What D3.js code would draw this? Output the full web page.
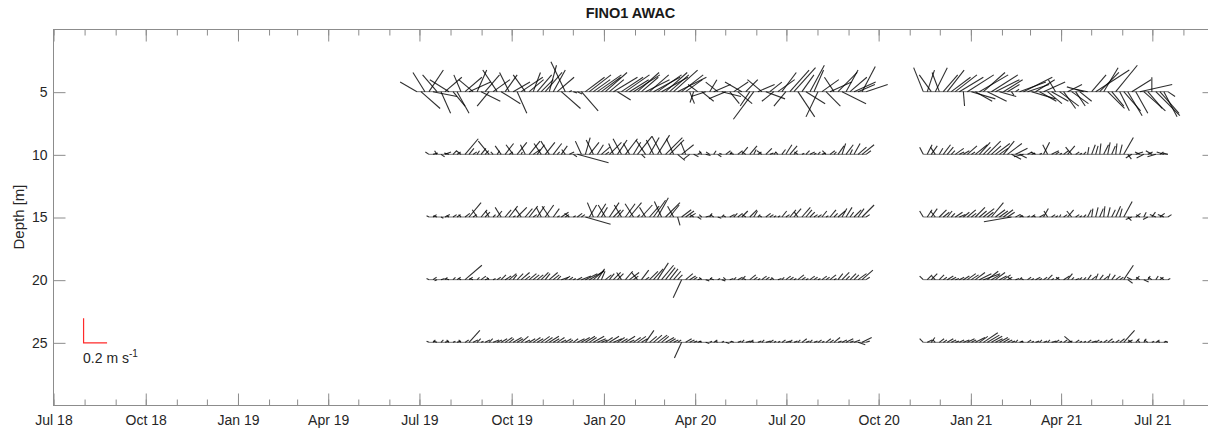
<!DOCTYPE html>
<html>
<head>
<meta charset="utf-8">
<script src="https://cdn.jsdelivr.net/npm/d3@7"></script>
<style>
  html, body { margin: 0; padding: 0; background: #fff; }
  svg { display: block; font-family: "Liberation Sans", Arial, Helvetica, sans-serif; }
</style>
</head>
<body>
<svg id="chart" width="1208" height="430"></svg>
<script>
// ---------------------------------------------------------------
// FINO1 AWAC current sticks: east (u) and north (v) components in cm/s,
// one vector every 4 days, two deployments (a: 2019-20, b: 2020-21).
// null = no valid bin at that depth.
// ---------------------------------------------------------------
const title = "FINO1 AWAC";
const depths = [5, 10, 15, 20, 25];
const depthTicks = [5, 10, 15, 20, 25];
const startA = "2019-06-29";
const startB = "2020-11-15";
const stepDays = 4;

// 5 m
const u5a = [-14,16,-10,12,20,-12,8,14,-16,10, 10,-6,14,18,-12,8,16,12,-10,14, -12,16,10,-8,14,8,18,-10,12,6,
  12,10,14,6,10,14,16,-12,2,3, 4,14,16,18,14,20,16,18,12,20, 11,18,20,16,22,18,14,20,16,22,
  20,22,18,16,20,24,18,14,4,-3, -8,10,-12,6,14,-10,16,-14,8,12, 12,-14,10,-8,-17,14,-12,16,10,-10,
  14,12,-10,16,18,14,10,16,12,8, -10,14,12,18,-8,16,20,10,14,18, 14,11,18];
const v5a = [8,-14,16,18,-4,14,-18,12,10,-12, -18,14,12,8,10,18,-8,14,-12,10, 18,-10,14,16,8,-18,12,14,10,16,
  14,10,16,22,18,12,-14,25,1,-1, -2,-16,12,14,10,14,12,16,10,12, -7,12,14,10,14,16,12,10,14,12,
  14,12,16,14,18,12,14,10,-10,-9, 6,-8,-4,10,6,8,-4,-6,-10,8, -10,8,10,-12,-23,6,10,-6,8,-8,
  10,16,-12,18,20,-21,14,-10,22,18, -21,10,-12,8,12,16,-10,18,12,8, 6,21,6];
const u5b = [-8,6,-10,10,-6,12,14,16,18,20, 1,22,20,14,24,18,16,22,20,14, 16,10,2,3,22,24,18,20,16,14,
  18,12,14,-6,16,10,12,14,8,10, -14,-10,12,28,16,12,14,10,18,8, 14,12,16,10,27,18,12,0,20,16, 11,6];
const v5b = [20,18,14,20,16,14,18,12,14,12, -12,14,-6,-8,14,16,-8,14,10,-4, 10,6,-3,2,8,12,6,-6,10,-8,
  8,-10,-8,10,-12,-14,6,-10,-12,-8, 4,2,14,18,16,20,-14,-12,22,-16, -16,-20,10,-18,6,-16,-14,12,-20,-18, -21,-4];

// 10 m
const u10a = [null,null,null,-3,4,-2,3,5,-4,3, 3,-4,11,4,3,2,4,3,-9,-2, 2,-5,7,3,-6,8,1,-4,9,6,
  6,-6,8,-7,7,2,5,-3,4,3, 26,-5,4,8,-6,5,7,3,10,-4, 8,-7,10,-5,6,12,3,-8,8,-6,
  10,-8,14,12,-6,6,10,-4,-5,4, 3,-2,4,-3,2,3,-2,4,2,-3, 4,5,-3,6,2,3,-4,5,3,2,
  -2,3,5,6,3,-3,2,3,4,2, 2,3,-3,4,2,5,3,6,2,5, 7,10,4];
const v10a = [null,null,null,2,1,3,-2,2,1,3, 2,3,13,5,2,3,5,3,11,2, 3,7,9,2,8,10,2,8,11,4,
  8,9,10,11,9,2,7,4,2,-2, -7,11,14,10,12,8,6,2,10,9, 12,13,13,9,10,15,-3,12,14,12,
  16,15,14,12,13,-5,8,10,-4,-2, 2,3,-1,2,3,-2,1,3,2,1, 3,6,2,7,4,2,3,5,1,2,
  2,4,8,7,3,2,1,3,2,1, 2,1,3,3,2,7,9,8,4,9, 6,8,3];
const u10b = [-3,4,5,-4,3,6,5,3,7,4, 5,8,3,10,9,6,11,8,12,7, 9,12,8,10,6,-8,4,3,-4,2,
  5,-4,6,3,2,4,6,-5,3,2, 2,1,3,2,1,4,2,3,1,2, 8,3,-5,6,-4,-6,4,-5,-7,3, -6,-4];
const v10b = [6,8,7,6,5,8,6,3,5,2, 3,7,2,8,10,6,11,7,9,5, 11,9,-4,5,-3,-2,2,1,2,1,
  10,8,3,2,1,3,7,6,2,1, 2,6,8,7,9,8,10,7,9,8, 14,-4,-3,2,2,-3,2,3,-2,2, 2,1];

// 15 m
const u15a = [null,null,null,-2,3,-3,2,4,-2,3, 3,-2,4,10,3,-4,5,4,-3,2, 4,-5,5,7,2,8,-5,6,7,3,
  6,-4,7,-6,5,2,6,3,-4,2, 4,3,21,6,-5,7,5,-6,8,6, 5,-6,8,10,-7,2,9,-5,8,10,
  9,-6,12,8,-5,2,8,7,5,-3, 3,-2,4,2,-3,3,2,-2,4,3, 4,5,-3,6,3,2,-2,4,3,2,
  2,4,3,5,6,-3,7,5,4,3, 3,4,2,5,3,6,4,5,3,6, 5,10,3];
const v15a = [null,null,null,1,2,1,-1,2,1,2, 2,2,3,12,2,6,6,4,5,2, 5,8,6,9,1,8,7,7,9,2,
  9,8,10,9,7,1,4,2,3,1, 3,2,-6,10,12,11,8,10,12,6, 6,10,11,12,11,2,10,8,9,14,
  16,13,12,10,9,-7,6,5,3,2, -2,2,1,3,2,-1,2,1,2,3, 3,5,2,6,5,2,1,3,2,1,
  1,5,2,6,7,4,8,6,4,2, 2,5,1,6,3,5,7,8,4,6, 7,10,2];
const u15b = [-3,4,5,-4,6,5,4,3,6,5, 5,7,4,8,6,9,5,10,8,7, 8,6,-23,4,3,-3,2,3,-2,4,
  4,-3,3,2,1,3,5,-4,3,2, 2,3,1,2,3,1,2,3,4,2, 7,3,-5,4,-3,2,-4,3,-5,4, -5,3];
const v15b = [5,6,7,5,6,4,5,3,4,2, 4,6,3,8,5,7,4,12,6,5, 6,4,-4,2,1,2,1,2,1,2,
  7,5,2,1,2,2,6,5,2,1, 2,6,7,8,7,9,8,6,9,7, 13,-3,-2,3,2,4,-2,4,2,3, 2,2];

// 20 m
const u20a = [null,null,null,-2,3,-2,3,2,-3,2, 3,-2,14,3,-3,2,4,3,-2,2, 3,4,5,6,3,5,7,4,6,5,
  5,6,4,7,5,3,6,4,3,2, 4,8,10,12,9,6,3,5,4,6, 5,-4,6,8,4,-5,6,3,7,8,
  9,10,8,7,6,4,-7,6,5,3, 3,-2,3,2,-3,2,3,-2,3,2, 4,3,-2,5,3,2,4,3,2,-2,
  3,2,4,3,2,5,3,2,4,3, 2,4,3,5,2,4,6,3,5,4, 7,9,3];
const v20a = [null,null,null,1,2,-1,1,2,1,2, 2,1,12,2,1,2,3,1,2,1, 2,4,3,5,4,5,6,3,5,4,
  4,6,5,6,4,3,2,3,2,1, 2,3,5,7,8,9,7,4,5,6, 5,6,7,6,3,6,8,2,7,9,
  14,12,10,9,7,4,-15,5,3,2, 1,2,-1,2,1,1,-1,2,1,2, 2,3,1,4,2,1,3,2,1,2,
  1,2,3,2,1,4,2,1,3,2, 1,3,2,4,1,5,6,3,5,4, 5,8,2];
const u20b = [-3,4,5,-3,4,3,5,4,3,4, 5,7,6,8,10,14,9,7,8,6, 6,4,-3,3,2,-2,3,2,4,2,
  3,4,2,3,-3,5,4,2,3,2, 2,3,4,2,3,4,2,3,4,3, 8,4,-4,3,-3,4,2,-3,2,3, -3,2];
const v20b = [3,4,5,3,4,2,3,2,1,2, 3,5,4,6,5,5,7,4,6,3, 4,2,2,1,2,1,2,1,2,1,
  2,4,1,2,2,3,5,2,1,2, 2,4,3,5,4,3,5,4,3,2, 12,-3,2,3,2,-2,3,2,3,2, 2,1];

// 25 m
const u25a = [null,null,null,-2,2,-3,2,3,-2,2, 3,-2,3,9,4,3,2,4,3,5, 4,5,6,4,7,5,6,4,5,6,
  5,7,6,8,5,6,4,5,3,4, 6,7,8,6,9,7,5,6,8,7, 6,5,8,4,6,7,5,7,6,7,
  8,6,7,5,4,3,-6,5,4,3, 3,-2,3,2,3,-2,2,3,2,-2, 3,2,4,3,-2,3,2,4,3,2,
  2,3,4,2,3,2,4,3,2,3, 3,2,4,3,5,3,4,6,3,5, 6,8,3];
const v25a = [null,null,null,1,2,1,2,1,2,1, 1,2,2,10,2,3,1,2,3,2, 2,3,4,3,4,3,5,2,3,4,
  3,5,4,5,3,4,2,3,2,3, 3,4,5,4,5,3,2,4,5,3, 4,3,5,2,4,5,3,10,5,6,
  6,5,4,3,2,2,-13,3,2,1, 1,1,-1,1,2,1,1,-1,1,1, 1,2,1,2,1,1,2,1,2,1,
  1,2,1,2,1,2,3,1,2,1, 2,1,3,2,4,1,2,3,1,2, -2,4,1];
const u25b = [-3,4,3,-2,4,3,5,4,3,4, 5,6,4,8,7,12,10,9,6,7, 5,4,3,2,3,-2,3,2,3,2,
  3,2,4,3,2,3,4,-6,3,2, 2,3,4,3,2,3,4,2,3,4, 9,4,-3,3,-2,2,-3,2,3,-2, 2,-2];
const v25b = [3,2,4,2,3,2,3,2,1,2, 2,3,2,4,5,8,6,5,3,4, 3,2,1,2,1,1,2,1,1,2,
  1,2,1,2,1,2,1,5,2,1, 1,2,1,2,1,2,3,1,2,3, 10,2,2,3,2,3,2,1,2,1, 1,1];

const seriesByDepth = [
  { depth: 5,  a: [u5a, v5a],   b: [u5b, v5b] },
  { depth: 10, a: [u10a, v10a], b: [u10b, v10b] },
  { depth: 15, a: [u15a, v15a], b: [u15b, v15b] },
  { depth: 20, a: [u20a, v20a], b: [u20b, v20b] },
  { depth: 25, a: [u25a, v25a], b: [u25b, v25b] }
];

// reference arrow: 0.2 m/s drawn at depth 25
const refSpeed = 20;        // cm/s
const refDate = "2018-07-31";
const refDepth = 25;

// ---------------------------------------------------------------
const svg = d3.select("#chart");
const parse = d3.timeParse("%Y-%m-%d");

const plot = { left: 53, right: 1214, top: 29, bottom: 405 };

const x = d3.scaleTime()
  .domain([new Date(2018, 6, 1), new Date(2021, 8, 1)])
  .range([plot.left, plot.right]);
const y = d3.scaleLinear()
  .domain([0, 30])
  .range([plot.top, plot.bottom]);
// stick length: 0.2 m/s (20 cm/s) -> 24 px
const vec = d3.scaleLinear().domain([0, 20]).range([0, 24]);

const axisColor = "#8c8c8c";
const labelColor = "#262626";

// sticks
function buildSticks(start, uArr, vArr, depth) {
  const t0 = parse(start);
  const out = [];
  uArr.forEach((u, i) => {
    const v = vArr[i];
    if (u == null || v == null) return;
    out.push({ t: d3.timeDay.offset(t0, i * stepDays), u, v, depth });
  });
  return out;
}

const sticks = [];
const baselines = [];
seriesByDepth.forEach(s => {
  [[startA, s.a], [startB, s.b]].forEach(([start, [uArr, vArr]]) => {
    const pts = buildSticks(start, uArr, vArr, s.depth);
    sticks.push(...pts);
    if (pts.length) baselines.push({ depth: s.depth, t0: pts[0].t, t1: pts[pts.length - 1].t });
  });
});

const gData = svg.append("g");
gData.selectAll("line.base")
  .data(baselines)
  .join("line")
  .attr("class", "base")
  .attr("x1", d => x(d.t0)).attr("x2", d => x(d.t1))
  .attr("y1", d => y(d.depth)).attr("y2", d => y(d.depth))
  .attr("stroke", "#000").attr("stroke-opacity", 0.55).attr("stroke-width", 1);

gData.selectAll("line.stick")
  .data(sticks)
  .join("line")
  .attr("class", "stick")
  .attr("x1", d => x(d.t))
  .attr("y1", d => y(d.depth))
  .attr("x2", d => x(d.t) + Math.sign(d.u) * vec(Math.abs(d.u)))
  .attr("y2", d => y(d.depth) - Math.sign(d.v) * vec(Math.abs(d.v)))
  .attr("stroke", "#000")
  .attr("stroke-opacity", 0.82)
  .attr("stroke-width", 1.1)
  .attr("stroke-linecap", "butt");

// axes box
svg.append("rect")
  .attr("x", plot.left + 0.5).attr("y", plot.top + 0.5)
  .attr("width", plot.right - plot.left).attr("height", plot.bottom - plot.top)
  .attr("fill", "none").attr("stroke", axisColor).attr("stroke-width", 1);

function styleAxis(g) {
  g.select(".domain").remove();
  g.selectAll(".tick line").attr("stroke", axisColor);
  g.selectAll(".tick text").attr("fill", labelColor).style("font-size", "14px")
    .style("font-family", '"Liberation Sans", Arial, Helvetica, sans-serif');
}

const majorTicks = d3.timeMonth.every(3);
const minorTicks = d3.timeMonth.every(1);
const fmt = d3.timeFormat("%b %y");

// bottom: minor then major
svg.append("g").attr("transform", `translate(0.5,${plot.bottom + 0.5})`)
  .call(d3.axisBottom(x).ticks(minorTicks).tickSize(-6).tickFormat(""))
  .call(styleAxis);
svg.append("g").attr("transform", `translate(0.5,${plot.bottom + 0.5})`)
  .call(d3.axisBottom(x).ticks(majorTicks).tickSize(-12).tickPadding(10).tickFormat(fmt))
  .call(styleAxis);
// top
svg.append("g").attr("transform", `translate(0.5,${plot.top + 0.5})`)
  .call(d3.axisTop(x).ticks(minorTicks).tickSize(-6).tickFormat(""))
  .call(styleAxis);
svg.append("g").attr("transform", `translate(0.5,${plot.top + 0.5})`)
  .call(d3.axisTop(x).ticks(majorTicks).tickSize(-12).tickFormat(""))
  .call(styleAxis);
// left / right
svg.append("g").attr("transform", `translate(${plot.left + 0.5},0.5)`)
  .call(d3.axisLeft(y).tickValues(depthTicks).tickSize(-12).tickPadding(6).tickFormat(d3.format("d")))
  .call(styleAxis);
svg.append("g").attr("transform", `translate(${plot.right + 0.5},0.5)`)
  .call(d3.axisRight(y).tickValues(depthTicks).tickSize(-12).tickFormat(""))
  .call(styleAxis);

// title and axis label
svg.append("text")
  .attr("x", (plot.left + plot.right) / 2 - 3).attr("y", 18)
  .attr("text-anchor", "middle")
  .attr("font-weight", "bold").attr("font-size", 14.5)
  .attr("fill", "#1a1a1a")
  .text(title);

svg.append("text")
  .attr("transform", `translate(24,${(plot.top + plot.bottom) / 2}) rotate(-90)`)
  .attr("text-anchor", "middle")
  .attr("font-size", 15)
  .attr("fill", labelColor)
  .text("Depth [m]");

// reference vector (scale bar)
const rx = x(parse(refDate)), ry = y(refDepth);
const gRef = svg.append("g");
gRef.append("path")
  .attr("d", `M${rx + 0.5},${ry - vec(refSpeed)}V${ry + 0.5}H${rx + vec(refSpeed)}`)
  .attr("fill", "none").attr("stroke", "#ff2a2a").attr("stroke-width", 1.2);
const refLabel = gRef.append("text")
  .attr("x", rx).attr("y", ry + 21)
  .attr("font-size", 14).attr("fill", labelColor);
refLabel.append("tspan").text(`${refSpeed / 100} m s`);
refLabel.append("tspan").attr("dy", -6).attr("font-size", 10).text("-1");
</script>
</body>
</html>
